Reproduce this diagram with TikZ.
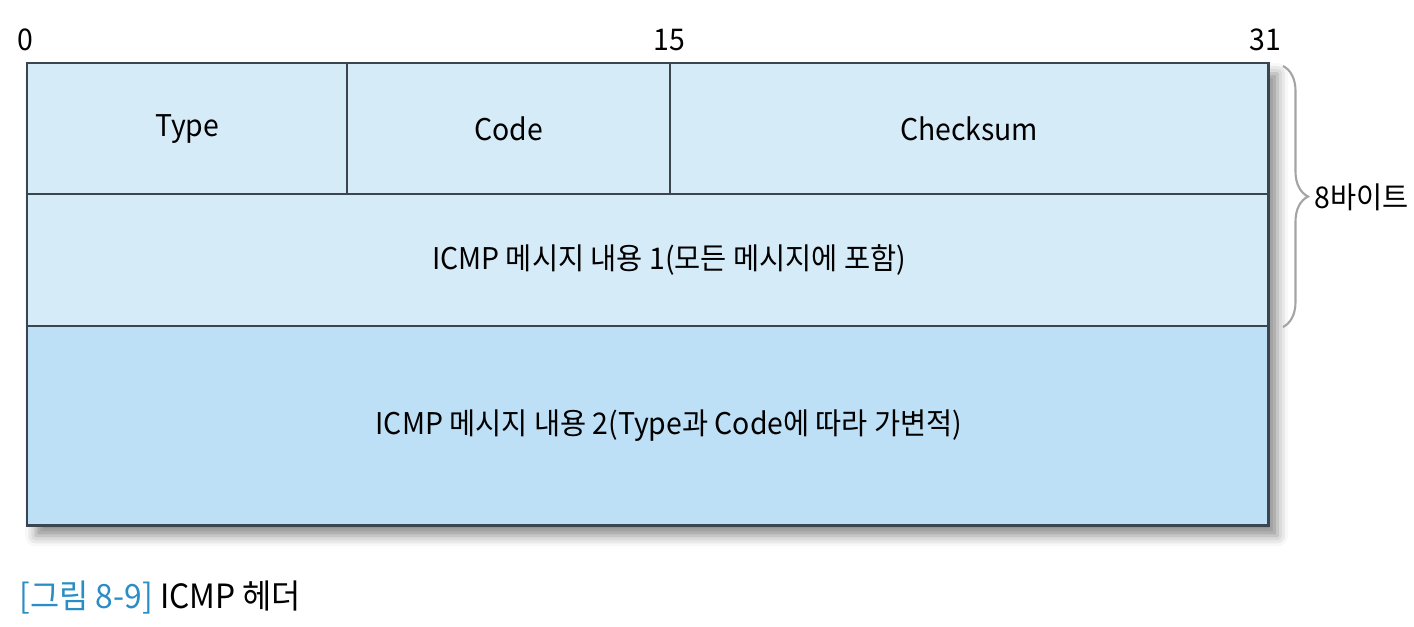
\documentclass[tikz,border=0pt]{standalone}
\usepackage{fontspec}
\setmainfont{Noto Sans CJK KR}[FakeStretch=0.95]
\usetikzlibrary{decorations.pathreplacing,shadows.blur}
\definecolor{hdrfill}{HTML}{D6EBF8}
\definecolor{bodyfill}{HTML}{BEE0F7}
\definecolor{hdrline}{HTML}{3A4550}
\definecolor{capblue}{HTML}{2A8DC5}
\definecolor{bracegray}{HTML}{A4A4A4}
\begin{document}
\begin{tikzpicture}[x=0.01cm,y=-0.01cm,
    field/.style={rectangle,draw=hdrline,line width=0.4pt,fill=hdrfill,anchor=north west,inner sep=0pt,outer sep=0pt,font=\fontsize{8.5}{10}\selectfont},
    bitno/.style={inner sep=0pt,font=\fontsize{8.5}{10}\selectfont}]

      \useasboundingbox (0,0) rectangle (1414,626);

      \node[field,minimum width=12.41cm,minimum height=4.62cm,blur shadow={shadow xshift=2.5pt,shadow yshift=-3pt,shadow blur radius=3pt,shadow opacity=45}] (frame) at (27,63){};

      \node[field,minimum width=3.2cm,minimum height=1.31cm] (type) at (27,63){Type};
      \node[field,minimum width=3.23cm,minimum height=1.31cm] (code) at (347,63){Code};
      \node[field,minimum width=5.98cm,minimum height=1.31cm] (cksum) at (670,63){Checksum};
      \node[field,minimum width=12.41cm,minimum height=1.32cm] (msg1) at (27,194){};
      \node[field,fill=bodyfill,minimum width=12.41cm,minimum height=1.99cm] (msg2) at (27,326){};

      \draw[hdrline,line width=0.8pt] (frame.north west) rectangle (frame.south east);

      \node[bitno] (b0) at (25,40){0};
      \node[bitno] (b15) at (669,40){15};
      \node[bitno] (b31) at (1265,40){31};

      \node[bitno] (msg1txt) at (b15 |- msg1){ICMP 메시지 내용 1(모든 메시지에 포함)};
      \node[bitno] (msg2txt) at (b15 |- msg2){ICMP 메시지 내용 2(Type과 Code에 따라 가변적)};

      \coordinate (bt) at (1283,66);
      \coordinate (bb) at (1283,327);
      \draw[bracegray,line width=0.6pt,decorate,decoration={brace,amplitude=0.25cm}] (bt) -- (bb);
      \node[bitno,anchor=west] (len) at (1314,197){8바이트};

      \node[anchor=west,inner sep=0pt,font=\fontsize{9.5}{11}\selectfont] (cap) at (19,598){\textcolor{capblue}{[그림 8-9]} ICMP 헤더};

\end{tikzpicture}
\end{document}
